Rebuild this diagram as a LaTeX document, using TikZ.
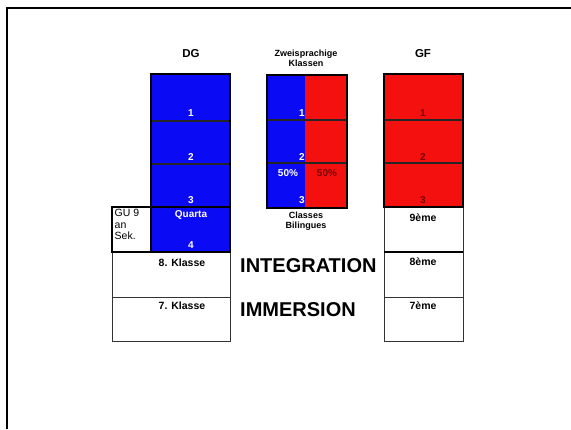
\documentclass[tikz,border=0pt]{standalone}
\usepackage{fontspec}
\setmainfont{Liberation Sans}
\definecolor{colblue}{HTML}{0A0AF5}
\definecolor{colred}{HTML}{F51010}
\definecolor{darkred}{HTML}{7A0000}
\tikzset{
  thickframe/.style={draw=black, line width=2.4pt},
  rowline/.style={draw=black!85, line width=1.2pt},
  whitecell/.style={draw=black!80, line width=0.9pt},
  head/.style={font=\bfseries\fontsize{11.5}{12}\selectfont, inner sep=0pt},
  smallhead/.style={font=\bfseries\fontsize{9}{10}\selectfont, inner sep=0pt, align=center},
  wnum/.style={font=\bfseries\fontsize{10}{11}\selectfont, text=white, inner sep=0pt},
  rnum/.style={font=\bfseries\fontsize{10}{11}\selectfont, text=darkred, inner sep=0pt},
  celltext/.style={font=\bfseries\fontsize{10.5}{11}\selectfont, inner sep=0pt},
  bigword/.style={font=\bfseries\fontsize{20}{21}\selectfont, inner sep=0pt, anchor=west},
}
\begin{document}
\begin{tikzpicture}[x=1pt,y=-1pt]
\useasboundingbox (0,0) rectangle (571,429);
\fill[white] (0,0) rectangle (571,429);
% outer frame (only top and left edges lie inside the page)
\draw[line width=2pt] (7,429) -- (7,8) -- (571,8);

% ---- DG column ----
\fill[colblue] (151,74) rectangle (230,252);
\draw[rowline] (151,121) -- (230,121);
\draw[rowline] (151,164) -- (230,164);
\draw[whitecell] (112,252) rectangle (230,297);
\draw[whitecell] (112,297) rectangle (230,341);
\draw[thickframe] (151,207) -- (230,207);
\draw[thickframe] (151,74) rectangle (230,252);
\draw[thickframe] (112,207) rectangle (151,252);

\node[head] (dg) at (191,54) {DG};
\node[wnum] (dg1) at (191,113) {1};
\node[wnum] (dg2) at (191,157) {2};
\node[wnum] (dg3) at (191,200) {3};
\node[wnum] (quarta) at (191,215) {Quarta};
\node[wnum] (dg4) at (191,245) {4};
\node[font=\fontsize{10.5}{11.5}\selectfont, align=left, anchor=north west, inner sep=0pt] (gu) at (114.5,209) {GU 9\\an\\Sek.};
\node[celltext] (kl8) at (182,263) {8. Klasse};
\node[celltext] (kl7) at (182,306) {7. Klasse};

% ---- bilingual column ----
\fill[colblue] (267,75) rectangle (305,208);
\fill[colred] (305,75) rectangle (347,208);
\draw[rowline] (267,120) -- (347,120);
\draw[rowline] (267,163) -- (347,163);
\draw[thickframe] (267,75) rectangle (347,208);

\node[smallhead] (zw) at (306,58) {Zweisprachige\\Klassen};
\node[wnum, anchor=east] (b1) at (305,113) {1};
\node[wnum, anchor=east] (b2) at (305,157) {2};
\node[wnum, anchor=east] (b3) at (305,200) {3};
\node[wnum] (p1) at (288,173) {50\%};
\node[rnum] (p2) at (327,173) {50\%};
\node[smallhead] (cb) at (306,221) {Classes\\Bilingues};

% ---- GF column ----
\fill[colred] (384,74) rectangle (463,207);
\draw[rowline] (384,120) -- (463,120);
\draw[rowline] (384,163) -- (463,163);
\draw[whitecell] (384,207) rectangle (463,252);
\draw[whitecell] (384,252) rectangle (463,297);
\draw[whitecell] (384,297) rectangle (463,341);
\draw[line width=1.8pt] (384,252) -- (463,252);
\draw[thickframe] (384,74) rectangle (463,207);

\node[head] (gf) at (423,54) {GF};
\node[rnum] (gf1) at (423,113) {1};
\node[rnum] (gf2) at (423,157) {2};
\node[rnum] (gf3) at (423,200) {3};
\node[celltext] (e9) at (423,218) {9ème};
\node[celltext] (e8) at (423,262) {8ème};
\node[celltext] (e7) at (423,306) {7ème};

% ---- middle labels ----
\node[bigword] (integ) at (240,266) {INTEGRATION};
\node[bigword] (immer) at (240,310) {IMMERSION};
\end{tikzpicture}
\end{document}
